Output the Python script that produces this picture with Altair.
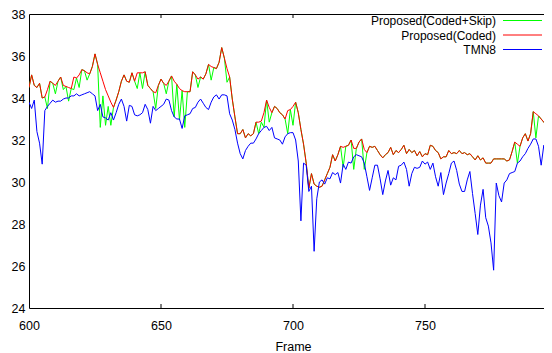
import altair as alt
import pandas as pd

frames = list(range(600, 801))

coded = [
    34.5, 35.1, 34.6, 34.5, 34.7, 34.0, 34.05, 34.4, 34.8, 34.7,
    34.6, 34.8, 35.0, 34.6, 34.55, 34.5, 34.45, 35.0, 34.95, 35.1,
    35.35, 35.3, 35.2, 35.15, 35.5, 36.1, 35.6, 35.2, 34.8, 34.4,
    34.1, 33.8, 33.55, 33.9, 34.3, 34.8, 35.1, 34.8, 34.75, 35.2,
    34.8, 35.2, 35.2, 35.2, 35.25, 34.6, 34.45, 34.3, 34.25, 34.6,
    34.9, 34.7, 34.6, 34.8, 35.05, 34.8, 34.65, 34.45, 34.35, 34.3,
    34.3, 34.3, 35.25, 35.1, 34.9, 35.0, 34.9, 35.15, 35.6, 35.5,
    35.45, 35.4, 35.7, 36.4, 35.9, 35.4, 35.0, 33.95, 33.1, 32.3,
    32.3, 32.5, 32.1, 32.3, 32.2, 32.3, 32.85, 32.85, 32.9, 33.3,
    33.9, 33.55, 33.3, 33.6, 33.5, 33.3, 33.2, 33.0, 33.4, 33.45,
    33.6, 33.8, 33.3, 32.5, 31.8, 30.9, 29.7, 30.4, 29.9, 29.8,
    29.75, 29.8, 30.1, 30.4, 30.7, 31.3, 31.0, 31.3, 31.7, 31.65,
    31.7, 31.75, 32.0, 31.6, 31.6, 31.9, 32.05, 31.55, 31.4, 31.7,
    31.65, 31.7, 31.5, 31.3, 31.15, 31.3, 31.4, 31.65, 31.3, 31.5,
    31.4, 31.55, 31.75, 31.35, 31.55, 31.4, 31.5, 31.25, 31.45, 31.2,
    31.35, 31.3, 31.75, 31.7, 31.5, 31.4, 31.1, 31.2, 31.2, 31.5,
    31.35, 31.4, 31.35, 31.5, 31.35, 31.4, 31.3, 31.35, 31.2, 31.05,
    31.25, 31.05, 31.15, 30.9, 30.9, 30.9, 31.1, 31.1, 31.1, 31.1,
    31.1, 31.0, 31.05, 31.45, 31.9, 31.8, 31.7, 32.1, 32.3, 31.95,
    32.3, 33.35, 33.25, 33.15, 33.0, 32.85, 32.7, 32.4, 31.9, 31.7,
    31.6,
]

coded_skip = [
    34.5, 35.1, 34.6, 34.5, 34.7, 34.0, 34.05, 33.5, 34.8, 34.7,
    34.2, 34.8, 35.0, 34.4, 34.55, 33.85, 34.45, 34.4, 34.95, 34.5,
    35.35, 35.3, 34.85, 35.15, 35.5, 36.1, 35.6, 32.6, 34.1, 32.7,
    33.6, 32.7, 33.55, 33.9, 34.3, 34.8, 35.1, 34.8, 34.75, 35.2,
    34.8, 34.45, 35.2, 34.45, 35.25, 34.6, 34.45, 34.3, 33.5, 34.6,
    34.9, 34.7, 34.2, 34.8, 35.05, 33.1, 34.65, 32.95, 34.35, 32.6,
    34.3, 34.3, 35.25, 35.1, 34.5, 35.0, 34.9, 35.15, 35.6, 34.85,
    35.45, 35.4, 35.7, 36.4, 35.9, 34.75, 35.0, 33.95, 33.1, 32.3,
    32.3, 32.5, 32.1, 32.3, 32.2, 32.3, 32.85, 32.3, 32.85, 32.6,
    33.9, 32.85, 33.3, 33.6, 33.5, 33.3, 33.2, 33.0, 32.3, 33.45,
    32.7, 33.8, 33.3, 32.5, 31.8, 30.9, 29.7, 30.4, 29.9, 29.8,
    29.75, 29.8, 30.1, 30.4, 30.7, 31.3, 31.0, 31.3, 31.7, 30.7,
    31.7, 31.75, 32.0, 30.6, 31.6, 31.9, 32.05, 30.6, 31.4, 31.7,
    31.65, 31.7, 31.5, 31.3, 31.15, 31.3, 31.4, 31.65, 31.3, 31.5,
    31.4, 31.55, 31.75, 31.35, 31.55, 31.4, 31.5, 31.25, 31.45, 31.2,
    31.35, 31.3, 31.75, 31.7, 31.5, 31.4, 31.1, 31.2, 31.2, 31.5,
    31.35, 31.4, 31.35, 31.5, 31.35, 31.4, 31.3, 31.35, 31.2, 31.05,
    31.25, 31.05, 31.15, 30.9, 30.9, 30.9, 31.1, 31.1, 31.1, 31.1,
    31.1, 31.0, 31.05, 31.45, 31.9, 30.9, 31.7, 32.1, 32.3, 31.95,
    32.3, 33.35, 32.1, 33.15, 33.0, 32.85, 32.7, 32.4, 31.9, 31.7,
    31.6,
]

tmn8 = [
    33.8, 33.5, 33.9, 32.4, 31.85, 30.85, 33.4, 33.6, 33.75, 33.9,
    33.8, 33.85, 33.85, 33.95, 34.0, 34.0, 34.1, 34.1, 34.2, 34.1,
    34.15, 34.2, 34.25, 34.3, 34.2, 34.1, 33.4, 33.7, 33.1, 33.05,
    32.95, 33.3, 32.95, 33.3, 33.7, 33.95, 33.6, 32.9, 33.65, 33.6,
    33.2, 33.15, 33.2, 33.3, 33.7, 33.45, 32.8, 33.6, 33.4, 33.5,
    33.6, 33.7, 33.95, 33.9, 33.4, 33.1, 33.0, 33.0, 32.55, 33.15,
    33.2, 33.25, 33.5, 33.55, 33.8, 33.95, 33.75, 33.55, 33.45, 33.8,
    34.05, 34.15, 33.95, 34.15, 34.15, 34.1, 33.25, 32.95, 32.5, 31.85,
    31.35, 31.1, 31.5, 31.7, 31.85, 31.85, 32.05, 32.3, 32.45, 32.6,
    32.65, 32.45, 32.6, 32.1, 32.05, 32.0, 31.8, 32.15, 32.3, 32.35,
    32.35, 32.0, 31.0, 28.15, 30.9, 30.8, 29.55, 29.8, 26.7, 29.2,
    30.0, 30.1, 29.9, 30.2, 30.15, 30.45, 30.35, 30.45, 29.95, 30.85,
    30.6, 30.95, 30.9, 31.2, 31.3, 31.25, 31.2, 30.9, 30.25, 29.6,
    30.2, 30.8, 30.8, 30.15, 29.4, 30.05, 30.55, 29.85, 30.2, 30.1,
    30.75, 30.8, 30.95, 30.6, 29.8, 30.4, 30.7, 30.65, 30.7, 31.0,
    30.85, 30.95, 30.6, 30.9, 30.25, 29.8, 30.45, 29.4, 29.95, 30.4,
    30.9, 31.0, 30.55, 29.9, 29.55, 29.55, 30.1, 30.5, 29.45, 28.5,
    27.5, 28.9, 29.65, 28.3, 27.9, 27.1, 25.8, 29.95, 29.35, 29.05,
    29.95, 30.1, 30.4, 30.45, 30.5, 30.9, 31.0, 31.2, 31.35, 31.6,
    31.8, 32.05, 32.05, 31.7, 30.8, 31.75, 31.2, 31.5, 30.3, 30.5,
    30.4,
]

series_names = ["Proposed(Coded+Skip)", "Proposed(Coded)", "TMN8"]
series_colors = ["#00ff00", "#ff0000", "#0000ff"]
series_values = [coded_skip, coded, tmn8]

x_ticks = [600, 650, 700, 750, 800]
y_ticks = [24, 26, 28, 30, 32, 34, 36, 38]
inner_ticks = [650, 700, 750]

W, H = 528, 294
FONT = "Liberation Sans"

x_scale = alt.Scale(domain=[x_ticks[0], x_ticks[-1]], nice=False)
y_scale = alt.Scale(domain=[y_ticks[0], y_ticks[-1]], nice=False)

x_axis = alt.Axis(values=x_ticks, format="d", ticks=False, domain=False, grid=False,
                  labelPadding=11, labelFont=FONT, labelFontSize=12.5, labelColor="black",
                  labelFlush=False, title="Frame", titleFont=FONT, titleFontSize=12.5,
                  titleFontWeight="normal", titleColor="black",
                  titleY=42, titleBaseline="alphabetic")
y_axis = alt.Axis(values=y_ticks, format="d", ticks=False, domain=False, grid=False,
                  labelPadding=4, labelFont=FONT, labelFontSize=12.5, labelColor="black",
                  labelFlush=False, title=None)

layers = []
for name, color, vals in zip(series_names, series_colors, series_values):
    df = pd.DataFrame({"frame": frames, "psnr": vals, "series": name})
    layers.append(
        alt.Chart(df).mark_line(color=color, strokeWidth=1, clip=True).encode(
            x=alt.X("frame:Q", scale=x_scale, axis=x_axis),
            y=alt.Y("psnr:Q", scale=y_scale, axis=y_axis),
        )
    )

tick_df = pd.DataFrame({"frame": inner_ticks})
bottom_ticks = alt.Chart(tick_df).mark_rule(color="black", strokeWidth=1).encode(
    x=alt.X("frame:Q", scale=x_scale, axis=x_axis), y=alt.value(H), y2=alt.value(H - 4))
top_ticks = alt.Chart(tick_df).mark_rule(color="black", strokeWidth=1).encode(
    x=alt.X("frame:Q", scale=x_scale, axis=x_axis), y=alt.value(0), y2=alt.value(4))
layers += [bottom_ticks, top_ticks]

row_y = [7, 21.5, 36]
for name, color, ry in zip(series_names, series_colors, row_y):
    ldf = pd.DataFrame({"label": [name]})
    layers.append(
        alt.Chart(ldf).mark_text(align="right", baseline="middle", font=FONT, fontSize=12,
                                 color="black").encode(
            text="label:N", x=alt.value(467), y=alt.value(ry))
    )
    layers.append(
        alt.Chart(ldf).mark_rule(color=color, strokeWidth=1).encode(
            x=alt.value(474), x2=alt.value(513), y=alt.value(ry - 0.5))
    )

chart = alt.layer(*layers).properties(
    width=W, height=H, background="white",
    autosize=alt.AutoSizeParams(type="none"),
    padding={"left": 21, "top": 6, "right": -13, "bottom": 45},
).configure_view(stroke="black", strokeWidth=1)

chart.save("out.html", embed_options={"renderer": "svg", "actions": False})
